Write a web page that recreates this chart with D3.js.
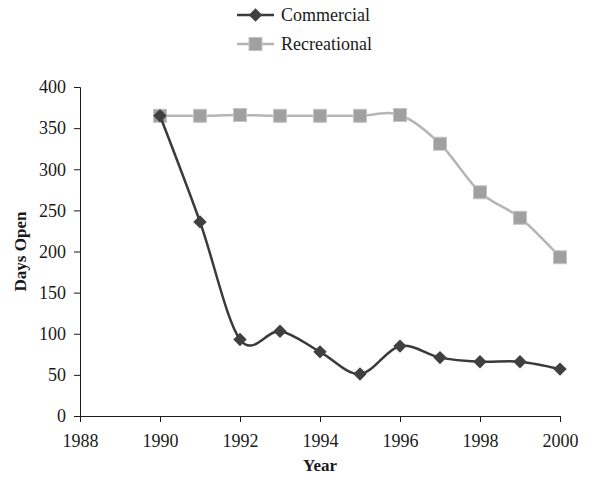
<!DOCTYPE html>
<html>
<head>
<meta charset="utf-8">
<script src="https://cdn.jsdelivr.net/npm/d3@7"></script>
<style>
  body { margin: 0; background: #fff; }
  svg { display: block; }
</style>
</head>
<body>
<div id="chart"></div>
<script>
// Data
const years = [1990, 1991, 1992, 1993, 1994, 1995, 1996, 1997, 1998, 1999, 2000];
const commercial = [365, 236, 93, 103, 78, 51, 85, 71, 66, 66, 57];
const recreational = [365, 365, 366, 365, 365, 365, 366, 331, 272, 241, 193];
const xTicks = [1988, 1990, 1992, 1994, 1996, 1998, 2000];
const yTicks = [0, 50, 100, 150, 200, 250, 300, 350, 400];

const width = 589;
const height = 480;
const marginTop = 87;
const marginRight = 29;
const marginBottom = 64;
const marginLeft = 80;

const font = "'Liberation Serif', 'Times New Roman', serif";
const fontSize = "18px";

const x = d3.scaleLinear()
    .domain([1988, 2000])
    .range([marginLeft, width - marginRight]);

const y = d3.scaleLinear()
    .domain([0, 400])
    .range([height - marginBottom, marginTop]);

const svg = d3.create("svg")
    .attr("width", width)
    .attr("height", height)
    .style("font-family", font);

// Axes
const xAxis = svg.append("g")
    .attr("transform", `translate(0,${height - marginBottom})`)
    .call(d3.axisBottom(x).tickValues(xTicks).tickFormat(d3.format("d")).tickSizeOuter(0).tickSize(6));

const yAxis = svg.append("g")
    .attr("transform", `translate(${marginLeft},0)`)
    .call(d3.axisLeft(y).tickValues(yTicks).tickSizeOuter(0).tickSize(6).tickPadding(8));

[xAxis, yAxis].forEach(g => {
  g.select(".domain").attr("stroke", "#1a1a1a").attr("stroke-width", 1);
  g.selectAll(".tick line").attr("stroke", "#1a1a1a");
  g.selectAll(".tick text")
      .attr("fill", "#1a1a1a")
      .style("font-family", font)
      .style("font-size", fontSize);
});
xAxis.selectAll(".tick text").attr("dy", 0).attr("y", 31);

// Axis titles
svg.append("text")
    .attr("x", (marginLeft + width - marginRight) / 2)
    .attr("y", 471)
    .attr("text-anchor", "middle")
    .style("font-weight", "bold")
    .style("font-size", "17px")
    .attr("fill", "#1a1a1a")
    .text("Year");

svg.append("text")
    .attr("transform", `translate(26,${(marginTop + height - marginBottom) / 2}) rotate(-90)`)
    .attr("text-anchor", "middle")
    .style("font-weight", "bold")
    .style("font-size", "17px")
    .attr("fill", "#1a1a1a")
    .text("Days Open");

const series = [
  { name: "Commercial", values: commercial, line: "#3a3a3a", fill: "#404040", stroke: "#404040", shape: "diamond" },
  { name: "Recreational", values: recreational, line: "#b5b5b5", fill: "#a0a0a0", stroke: "#c4c4c4", shape: "square" }
];

const line = d3.line()
    .x(d => x(d.year))
    .y(d => y(d.value))
    .curve(d3.curveCardinal.tension(0));

function marker(g, s, cx, cy) {
  if (s.shape === "diamond") {
    g.append("path")
        .attr("d", d3.symbol(d3.symbolSquare, 90)())
        .attr("transform", `translate(${cx},${cy}) rotate(45)`)
        .attr("fill", s.fill);
  } else {
    g.append("rect")
        .attr("x", cx - 6.5)
        .attr("y", cy - 6.5)
        .attr("width", 13)
        .attr("height", 13)
        .attr("fill", s.fill)
        .attr("stroke", s.stroke)
        .attr("stroke-width", 1);
  }
}

// Recreational drawn first, commercial on top
[series[1], series[0]].forEach(s => {
  const pts = years.map((yr, i) => ({ year: yr, value: s.values[i] }));
  svg.append("path")
      .attr("fill", "none")
      .attr("stroke", s.line)
      .attr("stroke-width", 2.5)
      .attr("d", line(pts));
  const g = svg.append("g");
  pts.forEach(p => marker(g, s, x(p.year), y(p.value)));
});

// Legend
series.forEach((s, i) => {
  const ly = 15 + i * 29;
  const g = svg.append("g");
  g.append("line")
      .attr("x1", 237).attr("x2", 274)
      .attr("y1", ly).attr("y2", ly)
      .attr("stroke", s.line)
      .attr("stroke-width", 2.5);
  marker(g, s, 255.5, ly);
  g.append("text")
      .attr("x", 281)
      .attr("y", ly)
      .attr("dy", "0.35em")
      .style("font-size", fontSize)
      .attr("fill", "#1a1a1a")
      .text(s.name);
});

document.getElementById("chart").appendChild(svg.node());
</script>
</body>
</html>
